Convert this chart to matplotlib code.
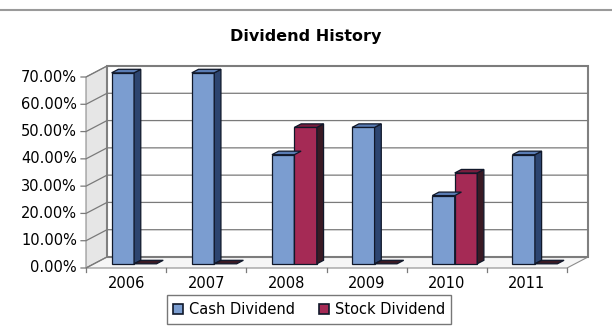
import numpy as np
import matplotlib
matplotlib.use('Agg')
import matplotlib.pyplot as plt
from matplotlib.patches import Polygon, Patch
from matplotlib.lines import Line2D
from matplotlib.transforms import IdentityTransform

plt.rcParams['font.family'] = ['DejaVu Sans']

years = ['2006', '2007', '2008', '2009', '2010', '2011']
cash = [0.70, 0.70, 0.40, 0.50, 0.25, 0.40]
stock = [0.0, 0.0, 0.50, 0.0, 0.333, 0.0]
yticks = [0.0, 0.1, 0.2, 0.3, 0.4, 0.5, 0.6, 0.7]

cash_col = ('#7b9dd0', '#2d4570', '#5a7cb4')    # front, side, top
stock_col = ('#a52a55', '#3a1a24', '#7a1e3e')

fig = plt.figure(figsize=(6.12, 3.29), dpi=100)
ax = fig.add_axes([86 / 612, 61 / 329, 481 / 612, 191 / 329])
ax.set_xlim(0, 6)
ax.set_ylim(0, 0.7)
ax.axis('off')

# depth offset of the back wall, in pixels
DXP, DYP = 21.0, 11.0
ID = IdentityTransform()


def P(x, y, d=0.0):
    px, py = ax.transData.transform((x, y))
    return (px + d * DXP, py + d * DYP)


def poly(pts, **kw):
    ax.add_patch(Polygon(pts, closed=True, transform=ID, clip_on=False, **kw))


# left wall, floor, back wall
poly([P(0, 0, 0), P(0, 0.7, 0), P(0, 0.7, 1), P(0, 0, 1)],
     facecolor='#e6e6e6', edgecolor='#8c8c8c', lw=0.8, zorder=1)
poly([P(0, 0, 0), P(6, 0, 0), P(6, 0, 1), P(0, 0, 1)],
     facecolor='#f6f6f6', edgecolor='#8c8c8c', lw=0.8, zorder=1)
poly([P(0, 0, 1), P(6, 0, 1), P(6, 0.7, 1), P(0, 0.7, 1)],
     facecolor='white', edgecolor='#808080', lw=1.5, zorder=1)

for v in yticks:
    a, b, c = P(0, v, 0), P(0, v, 1), P(6, v, 1)
    ax.add_line(Line2D([a[0] - 5, a[0], b[0], c[0]], [a[1], a[1], b[1], c[1]],
                       transform=ID, color='#7a7a7a', lw=0.9, clip_on=False, zorder=2))
    ax.text(a[0] - 9, a[1], f'{v * 100:.2f}%', transform=ID, ha='right', va='center',
            fontsize=10.5)

# category ticks and labels on front edge
for i in range(7):
    a = P(i, 0, 0)
    ax.add_line(Line2D([a[0], a[0]], [a[1], a[1] - 4], transform=ID,
                       color='#7a7a7a', lw=0.9, clip_on=False, zorder=2))
for i, yr in enumerate(years):
    a = P(i + 0.5, 0, 0)
    ax.text(a[0], a[1] - 15, yr, transform=ID, ha='center', va='center', fontsize=10.5)

# bars with a 3-D look
w = 0.28
f0, f1 = 0.38, 0.70
xs = np.arange(len(years)) + 0.5
for vals, off, col in [(cash, -w, cash_col), (stock, 0.0, stock_col)]:
    for x, h in zip(xs, vals):
        x0, x1 = x + off, x + off + w
        if h > 0:
            poly([P(x0, 0, f0), P(x1, 0, f0), P(x1, h, f0), P(x0, h, f0)],
                 facecolor=col[0], edgecolor='#10182a', lw=0.9, zorder=4)
            poly([P(x1, 0, f0), P(x1, 0, f1), P(x1, h, f1), P(x1, h, f0)],
                 facecolor=col[1], edgecolor='#10182a', lw=0.9, zorder=4)
        poly([P(x0, h, f0), P(x1, h, f0), P(x1, h, f1), P(x0, h, f1)],
             facecolor=col[2] if h > 0 else col[1], edgecolor='#10182a', lw=0.9, zorder=5)

fig.text(0.5, 1 - 37 / 329, 'Dividend History', ha='center', va='center',
         fontsize=11.5, fontweight='bold')
fig.add_artist(Line2D([0, 1], [1 - 9.5 / 329] * 2, color='#9a9a9a', lw=1.5))

handles = [Patch(facecolor=cash_col[0], edgecolor='#10182a', lw=1.2),
           Patch(facecolor=stock_col[0], edgecolor='#10182a', lw=1.2)]
leg = fig.legend(handles, ['Cash Dividend', 'Stock Dividend'], loc='center',
                 bbox_to_anchor=(309 / 612, 1 - 309.5 / 329), ncol=2, fontsize=10.5,
                 frameon=True, fancybox=False, edgecolor='#555555',
                 handlelength=0.7, handleheight=0.7, handletextpad=0.4,
                 columnspacing=1.6, borderpad=0.45)
leg.get_frame().set_linewidth(1.0)

fig.savefig('out.png', dpi=100)
